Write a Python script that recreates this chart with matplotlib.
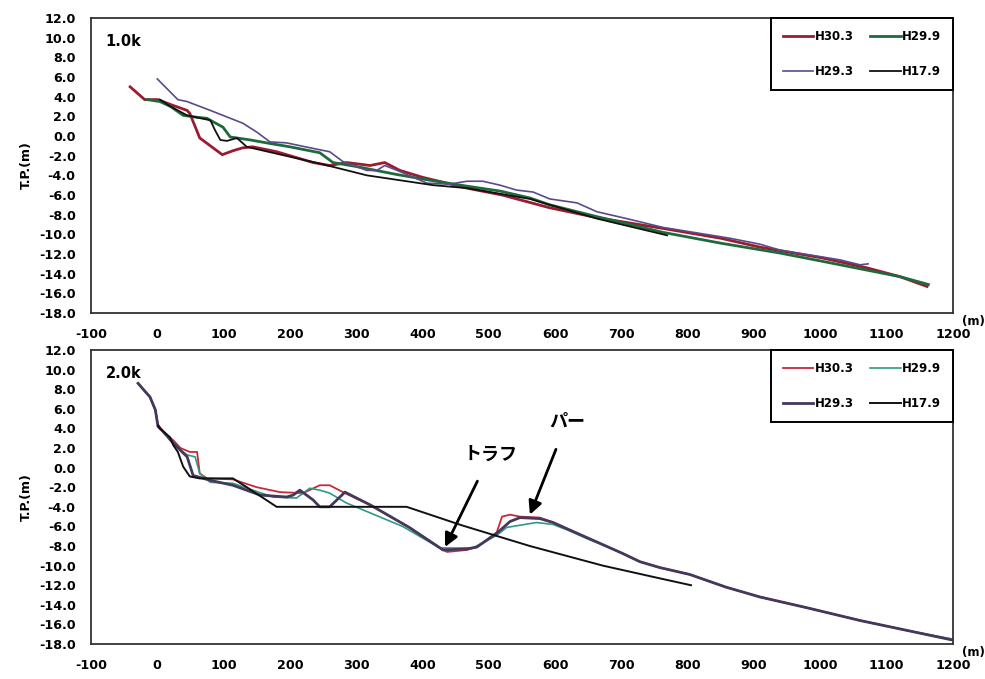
#!/usr/bin/env python3

import numpy as np
import matplotlib
matplotlib.use('Agg')
import matplotlib.pyplot as plt

plt.rcParams['font.family'] = ['DejaVu Sans', 'Noto Sans CJK JP']
plt.rcParams['font.weight'] = 'bold'
plt.rcParams['axes.unicode_minus'] = False

labels = ['H30.3', 'H29.9', 'H29.3', 'H17.9']
xTicks = np.arange(-100, 1201, 100)
yTicks = np.arange(-18, 13, 2)

# 1.0k profile
top_red_x = [-41, -19, 1, 20, 45, 49, 64, 80, 98, 114, 129, 144, 180, 235, 260, 286, 321, 343, 366, 400,
             431, 467, 520, 592, 663, 763, 850, 909, 1003, 1070, 1120, 1161]
top_red_y = [5.0, 3.7, 3.7, 3.2, 2.6, 2.3, -0.2, -1.0, -1.9, -1.5, -1.2, -1.1, -1.6, -2.7, -3.0, -2.7, -3.0,
             -2.7, -3.5, -4.2, -4.7, -5.3, -6.0, -7.3, -8.3, -9.4, -10.4, -11.3, -12.4, -13.4, -14.3, -15.3]
top_green_x = [-15, 4, 20, 39, 60, 75, 80, 99, 110, 140, 165, 200, 245, 265, 300, 360, 420, 467, 517, 562,
               592, 663, 763, 850, 939, 1000, 1060, 1120, 1163]
top_green_y = [3.7, 3.5, 3.0, 2.1, 1.9, 1.8, 1.6, 0.9, -0.1, -0.4, -0.7, -1.1, -1.7, -2.7, -3.1, -3.9, -4.6,
               -5.1, -5.6, -6.3, -7.0, -8.2, -9.8, -10.9, -11.9, -12.7, -13.5, -14.3, -15.1]
top_purple_x = [0, 31, 45, 80, 129, 150, 170, 195, 245, 260, 280, 316, 331, 343, 362, 407, 440, 467, 491,
                517, 542, 567, 592, 633, 663, 708, 763, 864, 909, 939, 1003, 1030, 1060, 1072]
top_purple_y = [5.8, 3.7, 3.5, 2.6, 1.3, 0.4, -0.6, -0.7, -1.4, -1.6, -2.6, -3.5, -3.5, -3.0, -3.5, -4.8,
                -4.9, -4.6, -4.6, -5.0, -5.5, -5.7, -6.4, -6.8, -7.7, -8.4, -9.3, -10.4, -11.0, -11.6,
                -12.3, -12.6, -13.1, -13.0]
top_black_x = [4, 20, 45, 80, 87, 95, 105, 120, 135, 180, 245, 316, 416, 467, 562, 592, 663, 769]
top_black_y = [3.7, 3.0, 2.1, 1.6, 0.6, -0.4, -0.5, -0.2, -1.1, -1.8, -2.8, -4.0, -5.0, -5.3, -6.4, -7.0,
               -8.4, -10.1]

# 2.0k profile
bot_red_x = [-29, -11, -3, 1, 10, 24, 35, 49, 60, 64, 75, 114, 150, 185, 220, 245, 260, 280, 321, 380, 431,
             437, 467, 482, 512, 520, 532, 547, 577, 597, 620, 650, 680, 700, 728, 758, 803, 858, 909, 980,
             1060, 1130, 1200]
bot_red_y = [8.6, 7.2, 5.9, 4.4, 3.6, 2.8, 2.0, 1.6, 1.6, -0.6, -1.1, -1.2, -2.0, -2.5, -2.6, -1.8, -1.8,
             -2.5, -3.8, -6.1, -8.4, -8.6, -8.4, -8.1, -6.6, -5.0, -4.8, -5.0, -5.1, -5.6, -6.3, -7.2, -8.1,
             -8.7, -9.6, -10.2, -10.9, -12.2, -13.2, -14.3, -15.6, -16.6, -17.6]
bot_green_x = [-29, -11, -3, 1, 10, 24, 35, 45, 57, 64, 80, 114, 144, 175, 210, 230, 245, 260, 285, 370,
               426, 476, 512, 527, 572, 597, 620, 650, 680, 700, 728, 758, 803, 858, 909, 980, 1060, 1130,
               1200]
bot_green_y = [8.6, 7.2, 5.9, 4.3, 3.5, 2.6, 1.8, 1.3, 1.1, -0.6, -1.5, -1.6, -2.3, -3.0, -3.1, -2.1, -2.3,
               -2.6, -3.6, -6.0, -8.2, -8.2, -6.9, -6.1, -5.6, -5.8, -6.4, -7.3, -8.1, -8.7, -9.6, -10.2,
               -10.9, -12.2, -13.2, -14.3, -15.6, -16.6, -17.5]
bot_purple_x = [-29, -11, -3, 1, 10, 20, 30, 45, 54, 80, 114, 155, 195, 205, 215, 225, 235, 245, 260, 283,
                321, 380, 431, 467, 482, 512, 532, 547, 577, 597, 620, 650, 680, 700, 728, 758, 803, 858,
                909, 980, 1060, 1130, 1200]
bot_purple_y = [8.6, 7.2, 5.9, 4.2, 3.6, 2.8, 2.1, 1.1, -0.8, -1.3, -1.8, -2.8, -3.0, -2.8, -2.3, -2.8, -3.3,
                -4.0, -4.0, -2.5, -3.8, -6.1, -8.4, -8.3, -8.1, -6.7, -5.5, -5.1, -5.2, -5.6, -6.3, -7.2,
                -8.1, -8.7, -9.6, -10.2, -10.9, -12.2, -13.2, -14.3, -15.6, -16.6, -17.6]
bot_black_x = [1, 4, 19, 24, 31, 39, 49, 64, 114, 135, 180, 245, 376, 460, 562, 672, 758, 805]
bot_black_y = [4.3, 4.0, 3.1, 2.3, 1.6, 0.1, -0.9, -1.1, -1.1, -2.0, -4.0, -4.0, -4.0, -5.9, -8.0, -10.0,
               -11.3, -12.0]

fig = plt.figure(figsize=(9.85, 6.79), dpi=100)
axTop = fig.add_axes([0.0924, 0.539, 0.875, 0.4345])
axBot = fig.add_axes([0.0924, 0.0515, 0.875, 0.433])

# line styles: (colour, width) for H30.3, H29.9, H29.3, H17.9
topStyle = [('#9b1b30', 2.0), ('#1d6b3c', 2.0), ('#5a4a8c', 1.2), ('#111111', 1.3)]
botStyle = [('#c8283a', 1.3), ('#2f9a80', 1.2), ('#45385c', 2.0), ('#111111', 1.4)]

topData = [(top_red_x, top_red_y), (top_green_x, top_green_y),
           (top_purple_x, top_purple_y), (top_black_x, top_black_y)]
botData = [(bot_red_x, bot_red_y), (bot_green_x, bot_green_y),
           (bot_purple_x, bot_purple_y), (bot_black_x, bot_black_y)]

for ax, data, style, tag in [(axTop, topData, topStyle, '1.0k'), (axBot, botData, botStyle, '2.0k')]:
    hnd = []
    for (xs, ys), (c, lw), lab in zip(data, style, labels):
        ln, = ax.plot(xs, ys, color=c, linewidth=lw, label=lab)
        hnd.append(ln)
    ax.set_xlim([-100, 1200])
    ax.set_ylim([-18, 12])
    ax.set_xticks(xTicks)
    ax.set_yticks(yTicks)
    ax.set_yticklabels(['%.1f' % v for v in yTicks])
    ax.tick_params(length=0, labelsize=9.2)
    ax.tick_params(axis='x', pad=11)
    ax.tick_params(axis='y', pad=11)
    for sp_ in ax.spines.values():
        sp_.set_color('#333333')
        sp_.set_linewidth(1.3)
    ax.set_ylabel('T.P.(m)', fontsize=9, fontweight='bold', labelpad=4)
    ax.text(0.017, 0.92, tag, transform=ax.transAxes, fontsize=10.5, fontweight='bold', va='center')
    ax.text(1.01, -0.03, '(m)', transform=ax.transAxes, fontsize=8.5, fontweight='bold', va='center',
            clip_on=False)
    leg = ax.legend([hnd[0], hnd[2], hnd[1], hnd[3]], [labels[0], labels[2], labels[1], labels[3]],
                    ncol=2, loc='upper right', bbox_to_anchor=(1.0, 1.0), borderaxespad=0,
                    fancybox=False, edgecolor='black', framealpha=1, fontsize=8.5,
                    labelspacing=1.9, handlelength=2.6, handletextpad=0.1, columnspacing=1.4,
                    borderpad=1.0)
    leg.get_frame().set_linewidth(1.4)

# annotations on the 2.0k profile
jpFont = ['Noto Sans CJK JP', 'DejaVu Sans']
axBot.annotate('トラフ', xy=(434, -8.1), xytext=(503, 1.4), ha='center', va='center',
               fontsize=13, fontweight='bold', family=jpFont,
               arrowprops=dict(arrowstyle='-|>', color='black', lw=2.0, mutation_scale=20,
                               shrinkA=12, shrinkB=0))
axBot.annotate('パー', xy=(562, -4.8), xytext=(618, 4.7), ha='center', va='center',
               fontsize=13, fontweight='bold', family=jpFont,
               arrowprops=dict(arrowstyle='-|>', color='black', lw=2.0, mutation_scale=20,
                               shrinkA=12, shrinkB=0))

plt.savefig('out.png', dpi=100)
plt.close()
